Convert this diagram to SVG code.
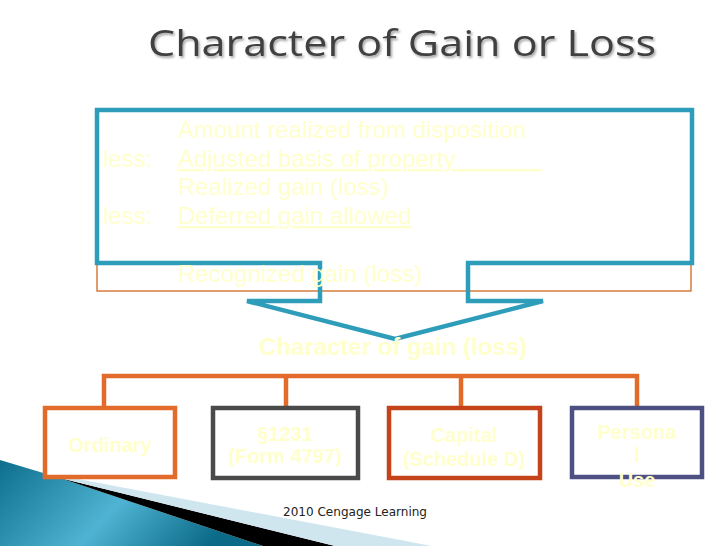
<svg xmlns="http://www.w3.org/2000/svg" width="728" height="546" viewBox="0 0 728 546">
<defs>
<style>
.body{font-family:"Liberation Sans",Arial,sans-serif;font-size:24px;fill:#FFFFCC}
.lbl{font-family:"Liberation Sans",Arial,sans-serif;font-size:20px;font-weight:bold;fill:#FFFFCC;text-anchor:middle}
.box{fill:#FFFFFF;stroke-width:4.5}
.conn{fill:none;stroke:#E26B2C;stroke-width:4.5}
</style>
<filter id="sh" x="-5%" y="-20%" width="110%" height="150%">
<feDropShadow dx="1.5" dy="2" stdDeviation="1.2" flood-color="#000" flood-opacity="0.35"/>
</filter>
<linearGradient id="tealg" x1="0" y1="0" x2="1" y2="0.3">
<stop offset="0" stop-color="#0d6f8c"/>
<stop offset="0.55" stop-color="#4fb3d3"/>
<stop offset="1" stop-color="#0b6a87"/>
</linearGradient>
</defs>
<rect width="728" height="546" fill="#FFFFFF"/>

<g id="title">
<text x="148" y="56" font-family="'Open Sans','DejaVu Sans',sans-serif" font-size="37" fill="#404040" textLength="508" lengthAdjust="spacingAndGlyphs" filter="url(#sh)">Character of Gain or Loss</text>
</g>

<g id="swoosh">
<path d="M0,460 L60,478 L263,546 L0,546 Z" fill="url(#tealg)"/>
<path d="M60,478 L335,546 L263,546 Z" fill="#000000"/>
<path d="M62,476 L432,546 L335,546 L60,478 Z" fill="#CFE6EF"/>
</g>

<g id="computation">
<rect x="97" y="110" width="594" height="181" fill="none" stroke="#D2691E" stroke-width="1.3"/>
<path d="M97,110 H692 V263 H468 V301 H543 L395,339 L247,301 H320 V263 H97 Z" fill="none" stroke="#2E9DBA" stroke-width="4.5" stroke-linejoin="miter"/>
<text class="body" x="178" y="138">Amount realized from disposition</text>
<text class="body" x="103" y="167">less:</text>
<text class="body" x="178" y="167" text-decoration="underline">Adjusted basis of property&#160;&#160;&#160;&#160;&#160;&#160;&#160;&#160;&#160;&#160;&#160;&#160;&#160;</text>
<text class="body" x="178" y="195">Realized gain (loss)</text>
<text class="body" x="103" y="224">less:</text>
<text class="body" x="178" y="224" text-decoration="underline">Deferred gain allowed</text>
<text class="body" x="178" y="282">Recognized gain (loss)</text>
</g>

<g id="character">
<text x="393" y="355" font-family="'Liberation Sans',Arial,sans-serif" font-size="24" font-weight="bold" fill="#FFFFCC" text-anchor="middle">Character of gain (loss)</text>
</g>

<g id="connectors">
<path class="conn" d="M104,408 V376 H637 V408 M286,376 V408 M461,376 V408"/>
</g>

<g id="ordinary">
<rect class="box" x="45" y="408" width="130" height="69" stroke="#E26B2C"/>
<text class="lbl" x="110" y="452">Ordinary</text>
</g>

<g id="sec1231">
<rect class="box" x="213" y="408" width="145" height="70" stroke="#4A4A4A"/>
<text class="lbl" x="285" y="441">§1231</text>
<text class="lbl" x="285" y="463">(Form 4797)</text>
</g>

<g id="capital">
<rect class="box" x="389" y="408" width="151" height="70" stroke="#C4431A"/>
<text class="lbl" x="464" y="442">Capital</text>
<text class="lbl" x="464" y="466">(Schedule D)</text>
</g>

<g id="personal">
<rect class="box" x="572" y="408" width="130" height="69" stroke="#4E5083"/>
<text class="lbl" x="637" y="439">Persona</text>
<text class="lbl" x="637" y="462">l</text>
<text class="lbl" x="637" y="487">Use</text>
</g>

<g id="footer">
<text x="283" y="516" font-family="'DejaVu Sans',Verdana,sans-serif" font-size="12" fill="#222222" textLength="144" lengthAdjust="spacingAndGlyphs">2010 Cengage Learning</text>
</g>
</svg>
